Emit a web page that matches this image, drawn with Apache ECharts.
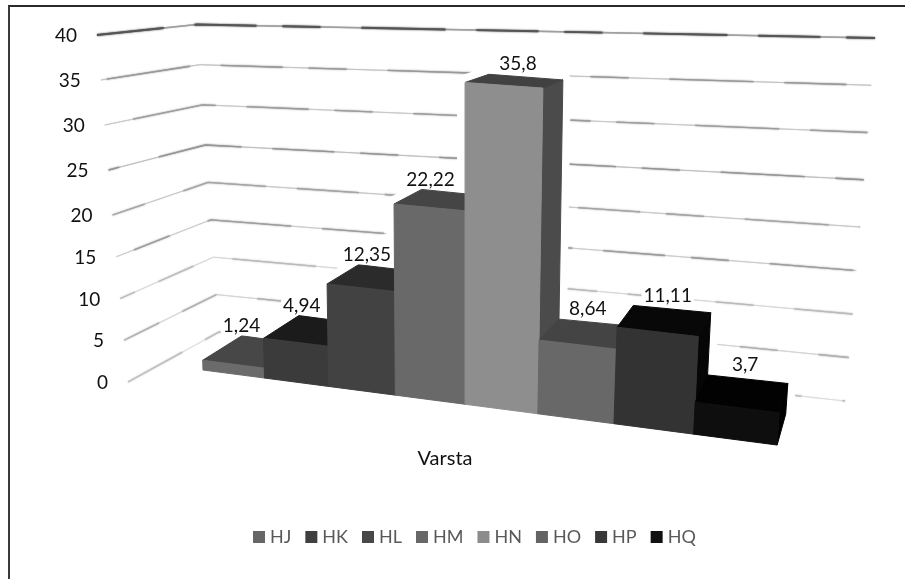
<!DOCTYPE html>
<html>
<head>
<meta charset="utf-8">
<style>html,body{margin:0;padding:0;background:#fff}#chart{width:905px;height:579px}</style>
<script src="https://cdn.jsdelivr.net/npm/echarts@6/dist/echarts.min.js"></script>
</head>
<body>
<div id="chart"></div>
<script>
const categories = ['HJ', 'HK', 'HL', 'HM', 'HN', 'HO', 'HP', 'HQ'];
const values = [1.24, 4.94, 12.35, 22.22, 35.8, 8.64, 11.11, 3.7];
const yTicks = [0, 5, 10, 15, 20, 25, 30, 35, 40];
const axisName = 'Varsta';

// Face colours per bar
const frontColors = ['#6b6b6b', '#3b3b3b', '#424242', '#696969', '#8e8e8e', '#686868', '#333333', '#0e0e0e'];
const topColors = ['#474747', '#1b1b1b', '#2b2b2b', '#454545', '#414141', '#444444', '#080808', '#020202'];
const sideColors = ['#444444', '#1e1e1e', '#2a2a2a', '#404040', '#4b4b4b', '#404040', '#060606', '#000000'];
const legendColors = ['#666666', '#3f3f3f', '#484848', '#686868', '#8c8c8c', '#646464', '#383838', '#111111'];
// Horizontal nudge of each value label from the middle of its bar
const labelNudge = [8, 6, 6, 1, 14, 10, 10, 8];
// Strength of each wall line, lowest value first
const lineBase = ['#dedede', '#d4d4d4', '#d8d8d8', '#cccccc', '#c8c8c8', '#c0c0c0', '#c8c8c8', '#c4c4c4', '#a0a0a0'];
const lineDark = ['#bdbdbd', '#b0b0b0', '#bababa', '#9c9c9c', '#a4a4a4', '#949494', '#9c9c9c', '#989898', '#555555'];

const GRID = { left: 203, top: 50, width: 574, height: 320 };
const unitX = GRID.width / 8;
const unitY = GRID.height / 40;
const FONT = 'Lato, "Open Sans", sans-serif';

// Read axis position back out of the grid's scales
function scaled(api, t, v) {
  const p = api.coord([t, v]);
  return [(p[0] - GRID.left) / unitX, (GRID.top + GRID.height - p[1]) / unitY];
}

// Perspective projection of a point on the front plane of the bars (depth 0) or their back plane (depth 1)
function project(api, t, v, depth) {
  const [tt, h] = scaled(api, t, v);
  const x0 = (56.2 * tt + 203) / (1 - 0.02003 * tt);
  let x = x0 + h * (tt > 4 ? 0.14 : 0.06) * (tt - 4);
  let y = 370 + 0.1307 * (x0 - 203) - h * (7.85 + 0.1 * tt) * (1 + 0.0025 * h);
  if (depth) {
    x += 39 - 3.8 * tt;
    y -= 25 - 0.47 * h + Math.max(0, tt - 5) * 2;
  }
  return [x, y];
}

// The three corners of a wall line at a given height: front of side wall, back corner, far end
function wallPoints(api, v) {
  const h = scaled(api, 0, v)[1];
  return [
    [128 - 0.775 * h, 382 - 8.35 * h - 0.65 * Math.max(0, h - 20)],
    [219 - 0.55 * h, 332 - 7.48 * h - 0.55 * Math.max(0, h - 25)],
    [845 + 0.75 * h, 401 - 8.7 * h - 0.75 * Math.max(0, h - 20)]
  ];
}

function renderWall(params, api) {
  const v = api.value(0);
  const i = params.dataIndex;
  const pts = wallPoints(api, v);
  const wide = v === 40 ? 1.6 : 1;
  return {
    type: 'group',
    children: [
      { type: 'polyline', silent: true, shape: { points: pts },
        style: { fill: null, stroke: lineBase[i], lineWidth: wide, shadowBlur: 1, shadowColor: lineBase[i] } },
      { type: 'polyline', silent: true, shape: { points: pts },
        style: { fill: null, stroke: lineDark[i], lineWidth: wide + 0.3, shadowBlur: 2, shadowColor: lineDark[i],
                 lineDash: [62, 26, 38, 41, 84, 31], lineDashOffset: i * 23 } },
      { type: 'text', silent: true,
        style: { text: String(v), x: pts[0][0] - 20, y: pts[0][1] + 1, fill: '#111',
                 font: '19px ' + FONT, textAlign: 'right', textVerticalAlign: 'middle' } }
    ]
  };
}

// White margin that keeps wall lines off the bars
function renderHalo(params, api) {
  const i = api.value(0), v = api.value(1);
  const outline = [
    project(api, i, 0, 0), project(api, i, v, 0), project(api, i, v, 1),
    project(api, i + 1, v, 1), project(api, i + 1, 0, 1), project(api, i + 1, 0, 0)
  ];
  return { type: 'polygon', silent: true, shape: { points: outline },
           style: { fill: '#fff', stroke: '#fff', lineWidth: 16, lineJoin: 'round' } };
}

function renderBar(params, api) {
  const i = api.value(0), v = api.value(1);
  const fb = project(api, i, 0, 0), ft = project(api, i, v, 0);
  const fb2 = project(api, i + 1, 0, 0), ft2 = project(api, i + 1, v, 0);
  const bt = project(api, i, v, 1), bt2 = project(api, i + 1, v, 1), bb2 = project(api, i + 1, 0, 1);
  const face = (points, color) => ({
    type: 'polygon', silent: true, shape: { points },
    style: { fill: color, stroke: color, lineWidth: 1, lineJoin: 'round' }
  });
  return {
    type: 'group',
    children: [
      face([ft2, bt2, bb2, fb2], sideColors[i]),
      face([ft, bt, bt2, ft2], topColors[i]),
      face([fb, ft, ft2, fb2], frontColors[i]),
      { type: 'text', silent: true,
        style: { text: String(v).replace('.', ','), x: (ft[0] + ft2[0]) / 2 + labelNudge[i], y: bt[1] - 10,
                 fill: '#111', font: '19px ' + FONT, textAlign: 'center', textVerticalAlign: 'middle',
                 backgroundColor: '#fff', padding: [0, 2] } }
    ]
  };
}

const chart = echarts.init(document.getElementById('chart'), null, { renderer: 'canvas' });

const wallSeries = {
  name: 'wall', type: 'custom', animation: false, silent: true, z: 1,
  coordinateSystem: 'cartesian2d', renderItem: renderWall,
  encode: { y: 0 }, data: yTicks.map(v => [v])
};
const haloSeries = {
  name: 'margin', type: 'custom', animation: false, silent: true, z: 2,
  coordinateSystem: 'cartesian2d', renderItem: renderHalo,
  encode: { x: 0, y: 1 }, data: values.map((v, i) => [i, v])
};
const barSeries = categories.map((name, i) => ({
  name, type: 'custom', animation: false, silent: true, z: 3,
  coordinateSystem: 'cartesian2d', renderItem: renderBar,
  itemStyle: { color: legendColors[i] },
  encode: { x: 0, y: 1 }, data: [[i, values[i]]]
}));

chart.setOption({
  animation: false,
  backgroundColor: '#fff',
  grid: GRID,
  xAxis: { type: 'value', min: 0, max: 8, interval: 1, show: false },
  yAxis: { type: 'value', min: 0, max: 40, interval: 5, show: false },
  title: { text: axisName, left: 440, top: 444, textAlign: 'center',
           textStyle: { fontFamily: FONT, fontSize: 20, fontWeight: 'normal', color: '#111' } },
  legend: {
    data: categories, left: 253, top: 528, padding: 0, icon: 'rect', itemWidth: 12, itemHeight: 12, itemGap: 14,
    selectedMode: false,
    textStyle: { fontFamily: FONT, fontSize: 18, color: '#595959' }
  },
  graphic: [
    { type: 'line', silent: true, shape: { x1: 8, y1: 6, x2: 905, y2: 6 }, style: { stroke: '#2a2a2a', lineWidth: 2 } },
    { type: 'line', silent: true, shape: { x1: 9, y1: 6, x2: 9, y2: 579 }, style: { stroke: '#3a3a3a', lineWidth: 2 } }
  ],
  series: [wallSeries, haloSeries, ...barSeries]
});
</script>
</body>
</html>
